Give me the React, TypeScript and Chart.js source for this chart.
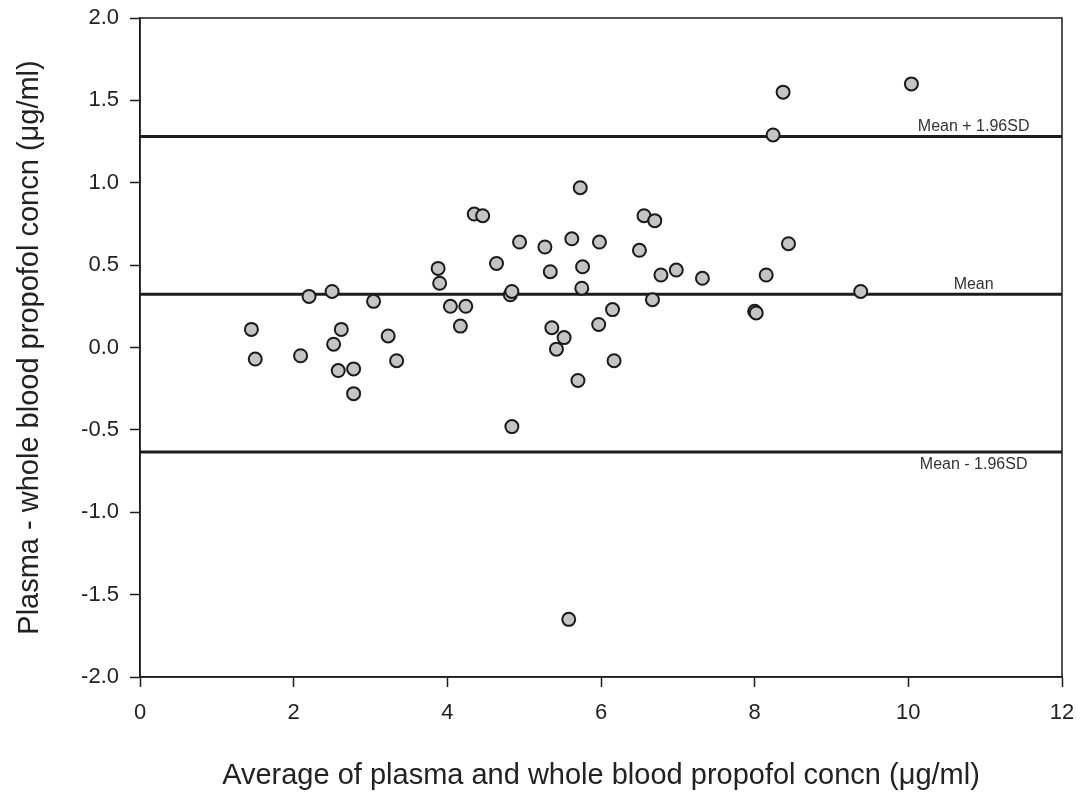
import React, { useEffect, useRef } from "react";
import { Chart, registerables } from "chart.js";

Chart.register(...registerables);

const avgConc: number[] = [
  1.45, 1.5, 2.09, 2.2, 2.5, 2.52, 2.58, 2.62, 2.78, 2.78, 3.04, 3.23, 3.34,
  3.88, 3.9, 4.04, 4.17, 4.24, 4.35, 4.46, 4.64, 4.82, 4.84, 4.84, 4.94,
  5.27, 5.34, 5.36, 5.42, 5.52, 5.58, 5.62, 5.7, 5.73, 5.75, 5.76, 5.97,
  5.98, 6.15, 6.17, 6.5, 6.56, 6.67, 6.7, 6.78, 6.98, 7.32, 8.0, 8.02,
  8.15, 8.24, 8.37, 8.44, 9.38, 10.04,
];
const diffConc: number[] = [
  0.11, -0.07, -0.05, 0.31, 0.34, 0.02, -0.14, 0.11, -0.13, -0.28, 0.28, 0.07,
  -0.08, 0.48, 0.39, 0.25, 0.13, 0.25, 0.81, 0.8, 0.51, 0.32, 0.34, -0.48,
  0.64, 0.61, 0.46, 0.12, -0.01, 0.06, -1.65, 0.66, -0.2, 0.97, 0.36, 0.49,
  0.14, 0.64, 0.23, -0.08, 0.59, 0.8, 0.29, 0.77, 0.44, 0.47, 0.42, 0.22,
  0.21, 0.44, 1.29, 1.55, 0.63, 0.34, 1.6,
];

const meanDiff = 0.323;
const upperLimit = 1.28;
const lowerLimit = -0.635;
const refLabels: string[] = ["Mean + 1.96SD", "Mean", "Mean - 1.96SD"];
const refValues: number[] = [upperLimit, meanDiff, lowerLimit];
const labelX = 10.85;

const xTicks: number[] = [0, 2, 4, 6, 8, 10, 12];
const yTicks: number[] = [-2, -1.5, -1, -0.5, 0, 0.5, 1, 1.5, 2];

const FONT = "'Liberation Sans', Arial, sans-serif";
const W = 1085;
const H = 802;

export default function App() {
  const ref = useRef<HTMLCanvasElement | null>(null);

  useEffect(() => {
    const canvas = ref.current;
    if (!canvas) return;

    const points = avgConc.map((x, i) => ({ x, y: diffConc[i] }));
    const lineSet = (v: number) => ({
      type: "line" as const,
      data: [
        { x: 0, y: v },
        { x: 12, y: v },
      ],
      showLine: true,
      borderColor: "#1c1c1c",
      borderWidth: 3,
      pointRadius: 0,
      fill: false,
      order: 2,
    });

    const boxAndLabels = {
      id: "boxAndLabels",
      afterDatasetsDraw(chart: any) {
        const { ctx, chartArea, scales } = chart;
        ctx.save();
        ctx.strokeStyle = "#1c1c1c";
        ctx.lineWidth = 1.5;
        ctx.strokeRect(
          chartArea.left,
          chartArea.top,
          chartArea.right - chartArea.left,
          chartArea.bottom - chartArea.top
        );
        ctx.fillStyle = "#333";
        ctx.font = `16px ${FONT}`;
        ctx.textAlign = "center";
        refLabels.forEach((lab, i) => {
          const px = scales.x.getPixelForValue(labelX);
          const py = scales.y.getPixelForValue(refValues[i]);
          if (i < 2) {
            ctx.textBaseline = "bottom";
            ctx.fillText(lab, px, py - 2);
          } else {
            ctx.textBaseline = "top";
            ctx.fillText(lab, px, py + 4);
          }
        });
        ctx.restore();
      },
    };

    const chart = new Chart(canvas, {
      type: "scatter",
      data: {
        datasets: [
          {
            type: "scatter",
            data: points,
            pointRadius: 6.5,
            pointBackgroundColor: "#c4c4c4",
            pointBorderColor: "#1a1a1a",
            pointBorderWidth: 2,
            order: 0,
          } as any,
          lineSet(upperLimit),
          lineSet(meanDiff),
          lineSet(lowerLimit),
        ],
      },
      options: {
        responsive: false,
        animation: false,
        layout: { padding: { top: 18, right: 23, left: 0, bottom: 0 } },
        plugins: {
          legend: { display: false },
          tooltip: { enabled: false },
        },
        scales: {
          x: {
            type: "linear",
            min: 0,
            max: 12,
            afterBuildTicks: (s: any) => {
              s.ticks = xTicks.map((v) => ({ value: v }));
            },
            afterFit: (s: any) => {
              s.height = H - 677;
              s.paddingLeft = 0;
              s.paddingRight = 0;
            },
            grid: {
              display: true,
              drawOnChartArea: false,
              tickLength: 10,
              tickColor: "#1c1c1c",
              tickWidth: 1.5,
            },
            border: { color: "#1c1c1c", width: 1.5 },
            ticks: {
              color: "#222",
              font: { family: FONT, size: 22 },
              padding: 13,
              maxRotation: 0,
              callback: (v: any) => String(v),
            },
            title: {
              display: true,
              text: "Average of plasma and whole blood propofol concn (μg/ml)",
              color: "#222",
              font: { family: FONT, size: 29 },
              padding: { top: 0, bottom: 9 },
            },
          },
          y: {
            type: "linear",
            min: -2,
            max: 2,
            afterBuildTicks: (s: any) => {
              s.ticks = yTicks.map((v) => ({ value: v }));
            },
            afterFit: (s: any) => {
              s.width = 140;
              s.paddingTop = 0;
              s.paddingBottom = 0;
            },
            grid: {
              display: true,
              drawOnChartArea: false,
              tickLength: 10,
              tickColor: "#1c1c1c",
              tickWidth: 1.5,
            },
            border: { color: "#1c1c1c", width: 1.5 },
            ticks: {
              color: "#222",
              font: { family: FONT, size: 22 },
              padding: 11,
              callback: (v: any) => Number(v).toFixed(1),
            },
            title: {
              display: true,
              text: "Plasma - whole blood propofol concn (μg/ml)",
              color: "#222",
              font: { family: FONT, size: 29 },
              padding: { top: 13, bottom: 0 },
            },
          },
        },
      },
      plugins: [boxAndLabels],
    } as any);

    return () => chart.destroy();
  }, []);

  return (
    <div style={{ position: "fixed", left: 0, top: 0, width: W, height: H, background: "#fff" }}>
      <canvas ref={ref} width={W} height={H} style={{ display: "block" }} />
    </div>
  );
}
